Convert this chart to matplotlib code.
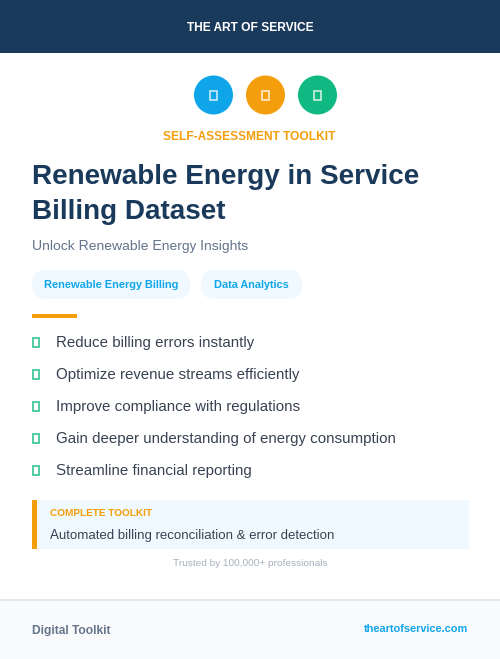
import matplotlib
matplotlib.use("Agg")
import matplotlib.pyplot as plt
from matplotlib.patches import Rectangle, Circle, FancyBboxPatch

plt.rcParams['font.family'] = ['Liberation Sans', 'DejaVu Sans']
plt.rcParams['text.hinting'] = 'no_autohint'

NAVY = '#1a3a5c'; BLUE = '#0ea5e9'; ORANGE = '#f59e0b'; GREEN = '#10b981'
SLATE = '#64748b'; DARK = '#374151'; PALE = '#f0f9ff'

brand = "THE ART OF SERVICE"
kicker = "SELF-ASSESSMENT TOOLKIT"
title_lines = ["Renewable Energy in Service", "Billing Dataset"]
subtitle = "Unlock Renewable Energy Insights"
tags = ["Renewable Energy Billing", "Data Analytics"]
bullets = ["Reduce billing errors instantly", "Optimize revenue streams efficiently",
           "Improve compliance with regulations", "Gain deeper understanding of energy consumption",
           "Streamline financial reporting"]
box_label = "COMPLETE TOOLKIT"
box_text = "Automated billing reconciliation & error detection"
trust = "Trusted by 100,000+ professionals"
foot_left = "Digital Toolkit"
foot_right = "theartofservice.com"
icon_colors = [BLUE, ORANGE, GREEN]

fig = plt.figure(figsize=(5, 6.59), dpi=100, facecolor='white')
ax = fig.add_axes([0, 0, 1, 1])
ax.set_xlim(0, 500); ax.set_ylim(659, 0); ax.axis('off')

def T(x, y, s, size, color, weight='normal', ha='left'):
    ax.text(x, y, s, fontsize=size * 0.72, color=color, fontweight=weight, ha=ha, va='center_baseline')

def R(x, y, w, h, **k):
    ax.add_patch(Rectangle((x, y), w, h, linewidth=k.pop('lw', 0), **k))

R(0, 0, 500, 53, facecolor=NAVY)
T(250, 26.5, brand, 12, 'white', 'bold', 'center')

for cx, c in zip([213.5, 265.5, 317.5], icon_colors):
    ax.add_patch(Circle((cx, 95), 19.5, facecolor=c, linewidth=0))
    R(cx - 3.2, 91, 6.4, 8.5, facecolor='none', edgecolor='white', lw=1.1, alpha=0.85)

T(249.5, 135.5, kicker, 12, ORANGE, 'bold', 'center')
T(32, 174, title_lines[0], 27.85, NAVY, 'bold')
T(32, 209, title_lines[1], 27.85, NAVY, 'bold')
T(32, 245, subtitle, 14, SLATE)

for x, w, s in zip([32, 201], [158, 101], tags):
    ax.add_patch(FancyBboxPatch((x + 14, 270 + 14), w - 28, 1, boxstyle="round,pad=14,rounding_size=14",
                                facecolor=PALE, linewidth=0))
    T(x + w / 2, 283.5, s, 11, BLUE, 'bold', 'center')

R(32, 314, 45, 4, facecolor=ORANGE)

for y, s in zip([341.5, 373.5, 405.5, 437.5, 469.5], bullets):
    R(33, y - 4, 6, 9.5, facecolor='none', edgecolor=GREEN, lw=1.2, alpha=0.85)
    T(56, y, s, 15.1, DARK)

R(32, 500, 437, 49, facecolor=PALE)
R(32, 500, 5, 49, facecolor=ORANGE)
T(50, 512, box_label, 10, ORANGE, 'bold')
T(50, 534.5, box_text, 13.2, DARK)
T(250, 562.5, trust, 10, '#a6afbd', 'normal', 'center')

R(0, 600, 500, 59, facecolor='#f8fafc')
R(0, 599, 500, 2, facecolor='#e2e8f0')
T(32, 629, foot_left, 12, SLATE, 'bold')
T(468, 628, foot_right, 11, BLUE, 'bold', 'right')

fig.savefig('out.png', dpi=100, facecolor='white')
